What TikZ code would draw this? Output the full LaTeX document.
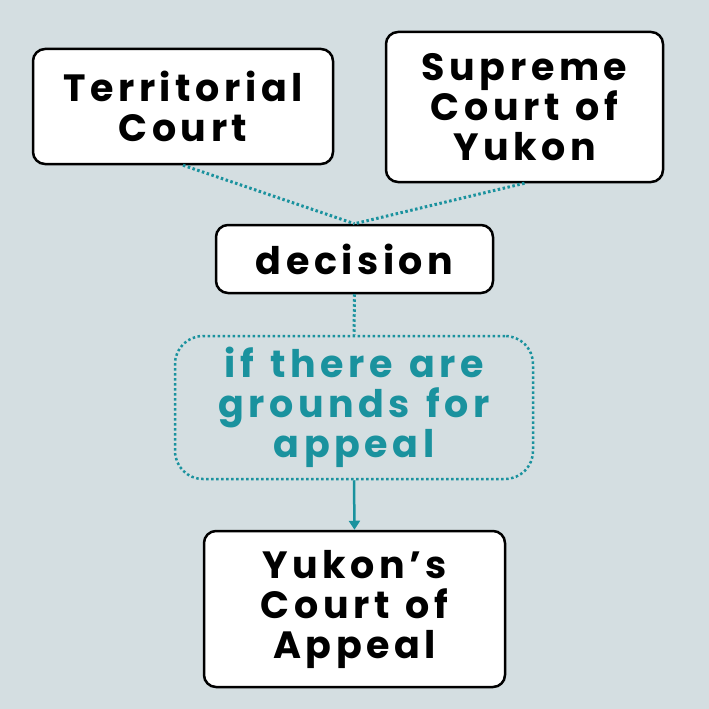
\documentclass[tikz,border=0pt]{standalone}
\usepackage{fontspec}
\setmainfont{Poppins}[LetterSpace=12,WordSpace=1.3]
\usetikzlibrary{arrows.meta}
\definecolor{bg}{HTML}{D4DEE1}
\definecolor{teal}{HTML}{1A929E}
\begin{document}
\begin{tikzpicture}[x=1pt,y=-1pt,
  court/.style={draw=black,line width=2.5pt,fill=white,rounded corners=12pt,
    align=center,inner sep=0pt,font=\fontsize{38}{40}\selectfont\bfseries,text=black},
  cond/.style={draw=teal,line width=2.5pt,dash pattern=on 2.5pt off 2.5pt,rounded corners=28pt,
    align=center,inner sep=0pt,font=\fontsize{38}{40}\selectfont\bfseries,text=teal},
  dotline/.style={draw=teal,line width=3pt,dash pattern=on 2.5pt off 2.5pt},
  arrline/.style={draw=teal,line width=2.5pt,-{Triangle[width=11pt,length=9pt]}}]
\fill[bg] (0,0) rectangle (709,709);
\useasboundingbox (0,0) rectangle (709,709);
\node[court,minimum width=300pt,minimum height=115pt] (terr) at (183,106.5) {Territorial\\Court};
\node[court,minimum width=277pt,minimum height=150pt] (sup) at (524.5,107) {Supreme\\Court of\\Yukon};
\node[court,minimum width=277pt,minimum height=68pt] (dec) at (354.5,259) {decision};
\node[cond,minimum width=358pt,minimum height=143pt] (grounds) at (354,407.5) {if there are\\grounds for\\appeal};
\node[court,minimum width=301pt,minimum height=156pt] (yca) at (354.5,609) {Yukon’s\\Court of\\Appeal};
\draw[dotline] (terr.south) -- (dec.north);
\draw[dotline] (sup.south) -- (dec.north);
\draw[dotline] (dec.south) -- (grounds.north);
\draw[arrline] (grounds.south) -- (yca.north);
\end{tikzpicture}
\end{document}
